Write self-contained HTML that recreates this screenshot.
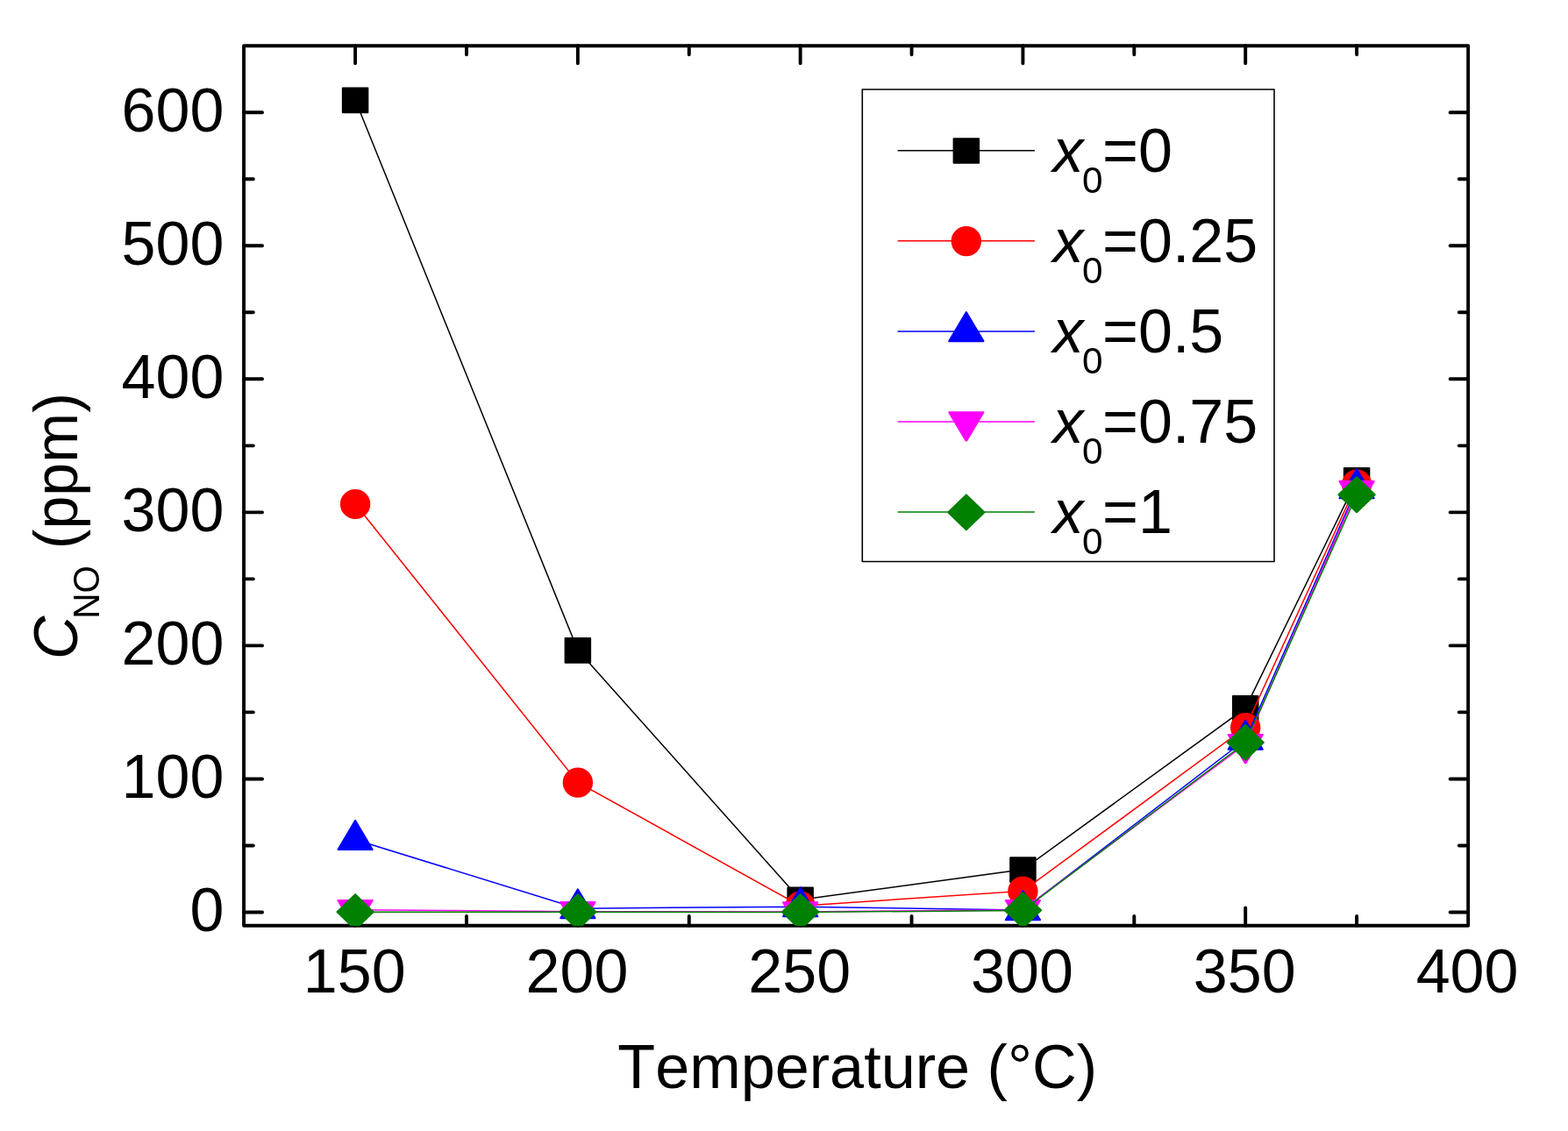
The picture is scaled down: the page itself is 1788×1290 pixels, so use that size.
<!DOCTYPE html>
<html lang="en">
<head>
<meta charset="utf-8">
<title>NO concentration vs temperature</title>
<style>
html,body{margin:0;padding:0;background:#fff;}
body{width:1788px;height:1290px;overflow:hidden;}
svg{display:block;}
svg text{font-family:"Liberation Sans",sans-serif;font-size:69.5px;fill:#000;font-kerning:none;}
.i{font-style:italic;}
.s{font-size:42px;}
.m{stroke-width:2.0;stroke-linejoin:round;}
.l{fill:none;stroke-width:1.5;}
</style>
</head>
<body>
<svg width="1788" height="1290" viewBox="0 0 1788 1290">
<rect x="0" y="0" width="1788" height="1290" fill="#ffffff"/>
<g id="axes" fill="none" stroke="#000" stroke-width="3.9" stroke-linecap="round" stroke-linejoin="round">
<rect x="278.05" y="52.18" width="1396.1" height="1003.53"/>
<path id="xticks" d="M405.1 1055.7v-20.35 M405.1 52.18v20 M531.99 1055.7v-10.8 M531.99 52.18v10.1 M658.88 1055.7v-20.35 M658.88 52.18v20 M785.76 1055.7v-10.8 M785.76 52.18v10.1 M912.65 1055.7v-20.35 M912.65 52.18v20 M1039.54 1055.7v-10.8 M1039.54 52.18v10.1 M1166.42 1055.7v-20.35 M1166.42 52.18v20 M1293.31 1055.7v-10.8 M1293.31 52.18v10.1 M1420.2 1055.7v-20.35 M1420.2 52.18v20 M1547.09 1055.7v-10.8 M1547.09 52.18v10.1"/>
<path id="yticks" d="M278.05 1040.5h21 M1674.15 1040.5h-20.55 M278.05 964.48h10.8 M1674.15 964.48h-10.35 M278.05 888.45h21 M1674.15 888.45h-20.55 M278.05 812.42h10.8 M1674.15 812.42h-10.35 M278.05 736.4h21 M1674.15 736.4h-20.55 M278.05 660.38h10.8 M1674.15 660.38h-10.35 M278.05 584.35h21 M1674.15 584.35h-20.55 M278.05 508.33h10.8 M1674.15 508.33h-10.35 M278.05 432.3h21 M1674.15 432.3h-20.55 M278.05 356.27h10.8 M1674.15 356.27h-10.35 M278.05 280.25h21 M1674.15 280.25h-20.55 M278.05 204.23h10.8 M1674.15 204.23h-10.35 M278.05 128.2h21 M1674.15 128.2h-20.55"/>
</g>
<defs><clipPath id="plotclip"><rect x="278.05" y="52.18" width="1396.1" height="1003.73"/></clipPath></defs>
<g id="data" clip-path="url(#plotclip)">
<g fill="#000000" stroke="#000000">
<path class="l" d="M405.1 114.05 L658.88 741.55 L912.65 1026.15 L1166.42 991.85 L1420.2 807.65 L1547.09 547.65"/>
<g class="m">
<rect x="390.85" y="100.45" width="28.5" height="27.7"/>
<rect x="644.62" y="727.95" width="28.5" height="27.7"/>
<rect x="898.4" y="1012.55" width="28.5" height="27.7"/>
<rect x="1152.17" y="978.25" width="28.5" height="27.7"/>
<rect x="1405.95" y="794.05" width="28.5" height="27.7"/>
<rect x="1532.84" y="534.05" width="28.5" height="27.7"/>
</g></g>
<g fill="#ff0000" stroke="#ff0000">
<path class="l" d="M405.1 574.75 L658.88 892.35 L912.65 1033.25 L1166.42 1016.35 L1420.2 829.85 L1547.09 552.35"/>
<g class="m">
<ellipse cx="405.1" cy="575" rx="16.2" ry="16.1"/>
<ellipse cx="658.88" cy="892.6" rx="16.2" ry="16.1"/>
<ellipse cx="912.65" cy="1033.5" rx="16.2" ry="16.1"/>
<ellipse cx="1166.42" cy="1016.6" rx="16.2" ry="16.1"/>
<ellipse cx="1420.2" cy="830.1" rx="16.2" ry="16.1"/>
<ellipse cx="1547.09" cy="552.6" rx="16.2" ry="16.1"/>
</g></g>
<g fill="#0000ff" stroke="#0000ff">
<path class="l" d="M405.1 957.75 L658.88 1036.15 L912.65 1034.15 L1166.42 1038.05 L1420.2 843.55 L1547.09 556.95"/>
<g class="m">
<polygon points="405.1,935.85 424.73,968.95 385.47,968.95"/>
<polygon points="658.88,1014.25 678.5,1047.35 639.25,1047.35"/>
<polygon points="912.65,1012.25 932.28,1045.35 893.02,1045.35"/>
<polygon points="1166.42,1016.15 1186.06,1049.25 1146.79,1049.25"/>
<polygon points="1420.2,821.65 1439.83,854.75 1400.57,854.75"/>
<polygon points="1547.09,535.05 1566.72,568.15 1527.46,568.15"/>
</g></g>
<g fill="#ff00ff" stroke="#ff00ff">
<path class="l" d="M405.1 1037.65 L658.88 1039.75 L912.65 1039.95 L1166.42 1037.75 L1420.2 848.75 L1547.09 559.75"/>
<g class="m">
<polygon points="404.65,1059.2 405.55,1059.2 424.73,1026.95 385.47,1026.95"/>
<polygon points="658.42,1061.3 659.33,1061.3 678.5,1029.05 639.25,1029.05"/>
<polygon points="912.2,1061.5 913.1,1061.5 932.28,1029.25 893.02,1029.25"/>
<polygon points="1165.97,1059.3 1166.88,1059.3 1186.06,1027.05 1146.79,1027.05"/>
<polygon points="1419.75,870.3 1420.65,870.3 1439.83,838.05 1400.57,838.05"/>
<polygon points="1546.64,581.3 1547.54,581.3 1566.72,549.05 1527.46,549.05"/>
</g></g>
<g fill="#008000" stroke="#008000">
<path class="l" d="M405.1 1040.3 L658.88 1040.3 L912.65 1040.4 L1166.42 1038.5 L1420.2 847.1 L1547.09 564.4"/>
<g class="m">
<polygon points="405.1,1020.1 425.8,1040.1 405.1,1060.1 384.4,1040.1"/>
<polygon points="658.88,1020.1 679.58,1040.1 658.88,1060.1 638.17,1040.1"/>
<polygon points="912.65,1020.2 933.35,1040.2 912.65,1060.2 891.95,1040.2"/>
<polygon points="1166.42,1018.3 1187.12,1038.3 1166.42,1058.3 1145.72,1038.3"/>
<polygon points="1420.2,826.9 1440.9,846.9 1420.2,866.9 1399.5,846.9"/>
<polygon points="1547.09,544.2 1567.79,564.2 1547.09,584.2 1526.39,564.2"/>
</g></g>
</g>
<g id="xlabels">
<text transform="translate(404.2 1131.6) scale(1.008 1)" text-anchor="middle">150</text>
<text transform="translate(657.98 1131.6) scale(1.008 1)" text-anchor="middle">200</text>
<text transform="translate(911.75 1131.6) scale(1.008 1)" text-anchor="middle">250</text>
<text transform="translate(1165.52 1131.6) scale(1.008 1)" text-anchor="middle">300</text>
<text transform="translate(1419.3 1131.6) scale(1.008 1)" text-anchor="middle">350</text>
<text transform="translate(1673.07 1131.6) scale(1.008 1)" text-anchor="middle">400</text>
</g>
<g id="ylabels">
<text transform="translate(255.4 1062.1) scale(1.008 1)" text-anchor="end">0</text>
<text transform="translate(255.4 910.05) scale(1.008 1)" text-anchor="end">100</text>
<text transform="translate(255.4 758) scale(1.008 1)" text-anchor="end">200</text>
<text transform="translate(255.4 605.95) scale(1.008 1)" text-anchor="end">300</text>
<text transform="translate(255.4 453.9) scale(1.008 1)" text-anchor="end">400</text>
<text transform="translate(255.4 301.85) scale(1.008 1)" text-anchor="end">500</text>
<text transform="translate(255.4 149.8) scale(1.008 1)" text-anchor="end">600</text>
</g>
<text id="xtitle" x="977.7" y="1241" text-anchor="middle" style="font-size:70.2px">Temperature (°C)</text>
<g id="ytitle" transform="translate(88 752) rotate(-90) scale(0.975 1)">
<text x="0" y="0" class="i" style="font-size:70px">C</text>
<text transform="translate(47.4 25.3) scale(0.965 1)" style="font-size:43px">NO</text>
<text x="128.9" y="0" style="font-size:70px">(ppm)</text>
</g>
<g id="legend">
<rect x="983.3" y="102.05" width="469.7" height="538.5" fill="#fff" stroke="#000" stroke-width="1.6" stroke-linejoin="round"/>
<g fill="#000000" stroke="#000000">
<path class="l" d="M1023.6 171.75H1179.9"/>
<g class="m"><rect x="1087.6" y="158.15" width="28.5" height="27.7"/></g>
</g>
<text transform="translate(1200.5 195.85) scale(1.008 1)"><tspan class="i">x</tspan><tspan class="s" dx="-1.6" dy="24.2">0</tspan><tspan dx="-0.4" dy="-24.2">=0</tspan></text>
<g fill="#ff0000" stroke="#ff0000">
<path class="l" d="M1023.6 274.84H1179.9"/>
<g class="m"><ellipse cx="1101.85" cy="275.09" rx="16.2" ry="16.1"/></g>
</g>
<text transform="translate(1200.5 298.94) scale(1.008 1)"><tspan class="i">x</tspan><tspan class="s" dx="-1.6" dy="24.2">0</tspan><tspan dx="-0.4" dy="-24.2">=0.25</tspan></text>
<g fill="#0000ff" stroke="#0000ff">
<path class="l" d="M1023.6 377.93H1179.9"/>
<g class="m"><polygon points="1101.85,356.03 1121.48,389.13 1082.22,389.13"/></g>
</g>
<text transform="translate(1200.5 402.03) scale(1.008 1)"><tspan class="i">x</tspan><tspan class="s" dx="-1.6" dy="24.2">0</tspan><tspan dx="-0.4" dy="-24.2">=0.5</tspan></text>
<g fill="#ff00ff" stroke="#ff00ff">
<path class="l" d="M1023.6 481.02H1179.9"/>
<g class="m"><polygon points="1101.4,502.57 1102.3,502.57 1121.48,470.32 1082.22,470.32"/></g>
</g>
<text transform="translate(1200.5 505.12) scale(1.008 1)"><tspan class="i">x</tspan><tspan class="s" dx="-1.6" dy="24.2">0</tspan><tspan dx="-0.4" dy="-24.2">=0.75</tspan></text>
<g fill="#008000" stroke="#008000">
<path class="l" d="M1023.6 584.11H1179.9"/>
<g class="m"><polygon points="1101.85,564.36 1122.55,584.36 1101.85,604.36 1081.15,584.36"/></g>
</g>
<text transform="translate(1200.5 608.21) scale(1.008 1)"><tspan class="i">x</tspan><tspan class="s" dx="-1.6" dy="24.2">0</tspan><tspan dx="-0.4" dy="-24.2">=1</tspan></text>
</g>
</svg>
</body>
</html>
